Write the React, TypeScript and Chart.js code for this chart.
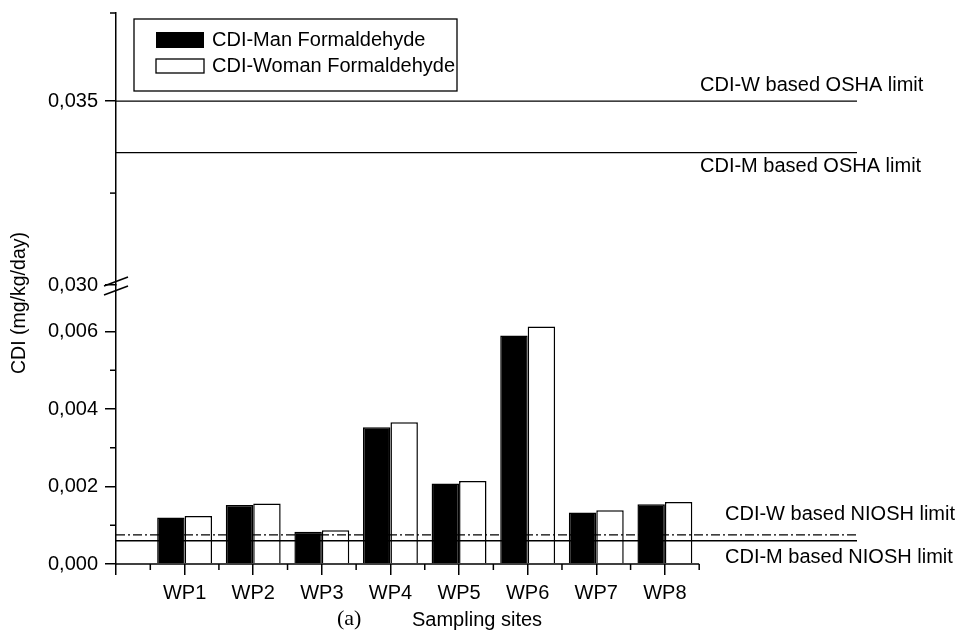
import React, { useEffect, useRef } from 'react';
import { Chart, registerables } from 'chart.js';

Chart.register(...registerables);

// ---- data ----
const categories = ['WP1', 'WP2', 'WP3', 'WP4', 'WP5', 'WP6', 'WP7', 'WP8'];
const sitePositions = [1, 2, 3, 4, 5, 6, 7, 8];
const manValues = [0.0012, 0.00152, 0.00083, 0.00353, 0.00208, 0.0059, 0.00133, 0.00154];
const womanValues = [0.00124, 0.00156, 0.00087, 0.00366, 0.00214, 0.00613, 0.00139, 0.0016];
const seriesLabels = ['CDI-Man Formaldehyde', 'CDI-Woman Formaldehyde'];

const oshaWoman = 0.035;
const oshaMan = 0.0336;
const nioshWoman = 0.00075;
const nioshMan = 0.0006;
const limitLabels = {
  oshaW: 'CDI-W based OSHA limit',
  oshaM: 'CDI-M based OSHA limit',
  nioshW: 'CDI-W based NIOSH limit',
  nioshM: 'CDI-M based NIOSH limit',
};

const lowRange = [0, 0.0072];
const highRange = [0.03, 0.0374];
const yLowMajorTicks = [0, 0.002, 0.004, 0.006];
const yLowMinorTicks = [0.001, 0.003, 0.005];
const yHighMajorTicks = [0.03, 0.035];
const yHighMinorTicks = [0.0325];
const xMajorTicks = [0, 1, 2, 3, 4, 5, 6, 7, 8];
const xMinorTicks = [0.5, 1.5, 2.5, 3.5, 4.5, 5.5, 6.5, 7.5, 8.5];
const xAxisEnd = 8.5;
const xMax = 10.8;

const FONT = '"Liberation Sans", Arial, sans-serif';

const fmt = (v: number) => v.toFixed(3).replace('.', ',');

const decorPlugin = {
  id: 'decor',
  afterDatasetsDraw(chart: any) {
    const ctx = chart.ctx as CanvasRenderingContext2D;
    const xs = chart.scales.x;
    const yl = chart.scales.yLow;
    const yh = chart.scales.yHigh;
    const area = chart.chartArea;
    const axisX = xs.getPixelForValue(0);
    const yb = yl.getPixelForValue(0);
    ctx.save();
    ctx.strokeStyle = '#000';
    ctx.fillStyle = '#000';
    ctx.lineWidth = 1.5;
    const seg = (a: number, b: number, c: number, d: number) => {
      ctx.beginPath();
      ctx.moveTo(a, b);
      ctx.lineTo(c, d);
      ctx.stroke();
    };
    // x axis line
    seg(axisX, yb, xs.getPixelForValue(xAxisEnd), yb);
    // minor x ticks
    xMinorTicks.forEach((v) => {
      const px = xs.getPixelForValue(v);
      seg(px, yb, px, yb + 6);
    });
    // minor y ticks
    yLowMinorTicks.forEach((v) => {
      const py = yl.getPixelForValue(v);
      seg(axisX - 6, py, axisX, py);
    });
    yHighMinorTicks.concat([yh.max]).forEach((v) => {
      const py = yh.getPixelForValue(v);
      seg(axisX - 6, py, axisX, py);
    });
    // break marks
    const J = yh.bottom;
    ctx.lineWidth = 1.6;
    seg(axisX - 12, J + 1, axisX + 12, J - 8);
    seg(axisX - 12, J + 10, axisX + 12, J + 1);

    // legend
    const lx = area.left + 18;
    const ly = area.top + 6;
    ctx.lineWidth = 1.3;
    ctx.strokeRect(lx, ly, 323, 72);
    ctx.fillRect(lx + 22, ly + 13, 48, 16);
    ctx.fillStyle = '#fff';
    ctx.fillRect(lx + 22, ly + 40, 48, 14);
    ctx.strokeRect(lx + 22, ly + 40, 48, 14);
    ctx.fillStyle = '#000';
    ctx.font = `20px ${FONT}`;
    ctx.textBaseline = 'middle';
    ctx.textAlign = 'left';
    ctx.fillText(chart.data.datasets[4].label, lx + 78, ly + 21);
    ctx.fillText(chart.data.datasets[5].label, lx + 78, ly + 47);

    // limit labels
    ctx.fillText(limitLabels.oshaW, area.right - 157, yh.getPixelForValue(oshaWoman) - 16);
    ctx.fillText(limitLabels.oshaM, area.right - 157, yh.getPixelForValue(oshaMan) + 14);
    ctx.fillText(limitLabels.nioshW, area.right - 132, yl.getPixelForValue(nioshWoman) - 20);
    ctx.fillText(limitLabels.nioshM, area.right - 132, yl.getPixelForValue(nioshMan) + 17);

    // x title
    ctx.fillText('Sampling sites', area.left + 296, 620);
    ctx.font = `22px "Liberation Serif", "Times New Roman", serif`;
    ctx.fillText('(a)', area.left + 221, 619);

    // y title
    ctx.font = `19.5px ${FONT}`;
    ctx.translate(20, 303);
    ctx.rotate(-Math.PI / 2);
    ctx.textAlign = 'center';
    ctx.fillText('CDI (mg/kg/day)', 0, 0);
    ctx.restore();
  },
};

function limitLine(label: string, y: number, axis: string, dash: number[]) {
  return {
    type: 'line' as const,
    label,
    data: [
      { x: 0, y },
      { x: xMax, y },
    ],
    xAxisID: 'x',
    yAxisID: axis,
    borderColor: '#000',
    borderWidth: 1.3,
    borderDash: dash,
    pointRadius: 0,
    fill: false,
    order: 0,
  };
}

export default function App() {
  const ref = useRef<HTMLCanvasElement | null>(null);
  useEffect(() => {
    if (!ref.current) return;
    Chart.defaults.font.family = FONT;
    Chart.defaults.color = '#000';
    const yCommon = (majors: number[]) => ({
      type: 'linear' as const,
      axis: 'y' as const,
      position: 'left' as const,
      stack: 'ybreak',
      grid: { drawOnChartArea: false, drawTicks: true, tickLength: 11, color: '#000', lineWidth: 1.5 },
      border: { display: true, color: '#000', width: 1.5 },
      ticks: { color: '#000', font: { size: 20, family: FONT }, padding: 7, callback: (v: any) => fmt(Number(v)) },
      afterBuildTicks: (s: any) => {
        s.ticks = majors.map((v) => ({ value: v }));
      },
      afterFit: (s: any) => {
        s.width = 116;
        s.paddingTop = 0;
        s.paddingBottom = 0;
      },
    });
    const chart = new Chart(ref.current, {
      type: 'bar',
      data: {
        datasets: [
          limitLine(limitLabels.oshaW, oshaWoman, 'yHigh', []),
          limitLine(limitLabels.oshaM, oshaMan, 'yHigh', []),
          limitLine(limitLabels.nioshW, nioshWoman, 'yLow', [9, 3, 2, 3]),
          limitLine(limitLabels.nioshM, nioshMan, 'yLow', []),
          {
            type: 'bar',
            label: seriesLabels[0],
            data: sitePositions.map((p, i) => ({ x: p, y: manValues[i] })),
            xAxisID: 'x',
            yAxisID: 'yLow',
            backgroundColor: '#000',
            borderColor: '#000',
            borderWidth: 1.5,
            categoryPercentage: 0.8,
            barPercentage: 1,
            order: 1,
          },
          {
            type: 'bar',
            label: seriesLabels[1],
            data: sitePositions.map((p, i) => ({ x: p, y: womanValues[i] })),
            xAxisID: 'x',
            yAxisID: 'yLow',
            backgroundColor: '#fff',
            borderColor: '#000',
            borderWidth: 1.5,
            categoryPercentage: 0.8,
            barPercentage: 1,
            order: 1,
          },
        ] as any,
      },
      options: {
        animation: false,
        responsive: false,
        maintainAspectRatio: false,
        layout: { padding: { top: 13, right: 99, left: 0, bottom: 0 } },
        plugins: { legend: { display: false }, tooltip: { enabled: false }, title: { display: false } },
        scales: {
          x: {
            type: 'linear',
            position: 'bottom',
            min: 0,
            max: xMax,
            offset: false,
            grid: { offset: false, drawOnChartArea: false, drawTicks: true, tickLength: 11, color: '#000', lineWidth: 1.5 },
            border: { display: false },
            ticks: {
              autoSkip: false,
              maxRotation: 0,
              padding: 6,
              color: '#000',
              font: { size: 20, family: FONT },
              callback: (v: any) => {
                const n = Number(v);
                return n >= 1 && n <= categories.length ? categories[n - 1] : '';
              },
            },
            afterBuildTicks: (s: any) => {
              s.ticks = xMajorTicks.map((v) => ({ value: v }));
            },
            afterFit: (s: any) => {
              s.height = 78;
              s.paddingLeft = 0;
              s.paddingRight = 0;
            },
          },
          yLow: { ...yCommon(yLowMajorTicks), min: lowRange[0], max: lowRange[1], stackWeight: 279, weight: 0 },
          yHigh: { ...yCommon(yHighMajorTicks), min: highRange[0], max: highRange[1], stackWeight: 272, weight: 1 },
        } as any,
      },
      plugins: [decorPlugin],
    });
    return () => chart.destroy();
  }, []);
  return (
    <div style={{ position: 'absolute', left: 0, top: 0, width: 956, height: 642, background: '#fff' }}>
      <canvas ref={ref} width={956} height={642} style={{ width: 956, height: 642, display: 'block' }} />
    </div>
  );
}
